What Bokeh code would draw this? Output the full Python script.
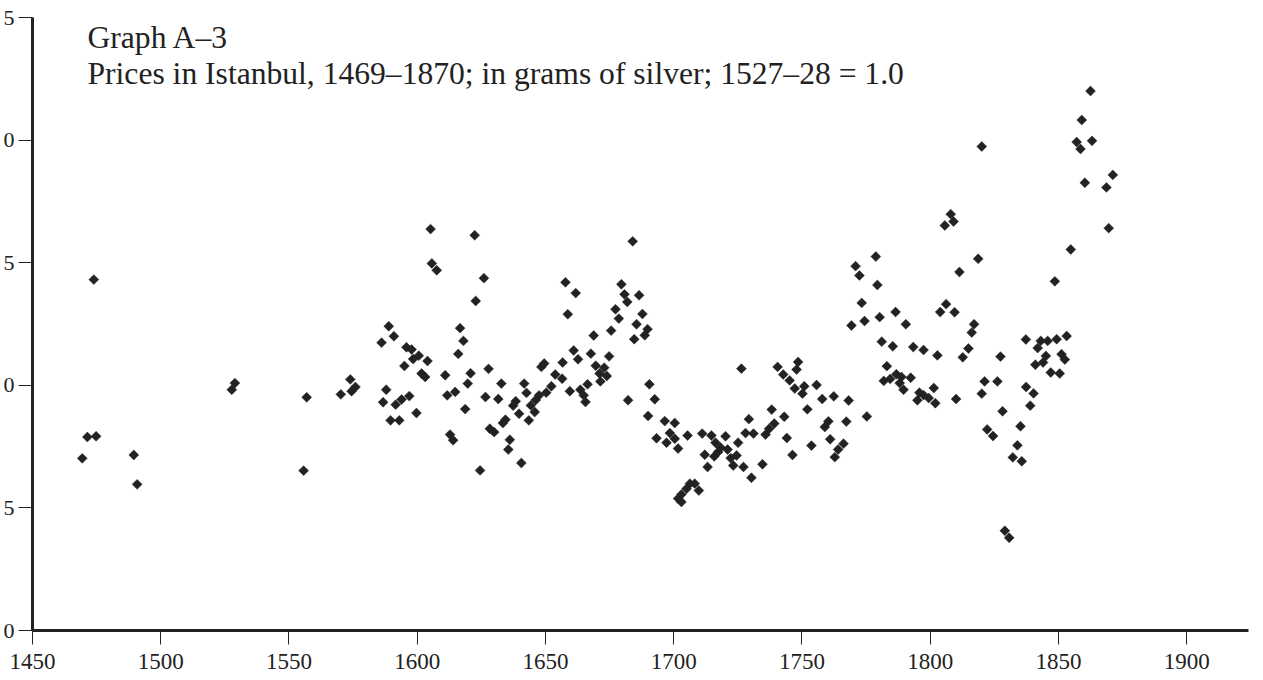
import numpy as np
from bokeh.plotting import figure
from bokeh.models import Label, Range1d, FixedTicker
from bokeh.embed import file_html
from bokeh.resources import INLINE

# --- data (year, price index; 1527-28 = 1.0) ---
years = [1469.4, 1471.4, 1473.9, 1474.8, 1489.5, 1490.8, 1527.7, 1528.9, 1555.7, 1556.9,
         1570.2, 1573.9, 1574.4, 1575.9,
         1586.1, 1586.7, 1587.9, 1588.9, 1589.6, 1590.9, 1591.6, 1593.0, 1593.9, 1595.0,
         1595.8, 1596.9, 1597.8, 1598.4, 1599.7, 1600.6, 1601.7, 1603.1, 1604.0, 1605.2,
         1605.7, 1607.6, 1610.9, 1611.7, 1612.8, 1614.0, 1614.8, 1616.0, 1616.7, 1618.0,
         1618.7, 1619.7, 1620.8, 1622.4, 1622.8, 1624.5, 1626.0, 1626.6, 1627.8, 1628.3,
         1630.0, 1631.6, 1632.8, 1633.4, 1634.4, 1635.5, 1636.1,
         1637.4, 1638.4, 1639.7, 1640.6, 1641.7, 1642.6, 1643.5, 1644.3, 1645.8, 1646.2,
         1647.5, 1648.4, 1649.5, 1650.3, 1652.3, 1653.8, 1656.5, 1656.7, 1657.8, 1658.7,
         1659.5, 1661.0, 1661.8, 1662.7, 1663.6, 1664.9, 1665.6, 1666.4, 1667.7, 1668.8,
         1669.6, 1671.1, 1671.4, 1672.9, 1673.9, 1674.8, 1675.6, 1677.3, 1678.6, 1679.6,
         1680.8, 1681.9, 1682.2, 1684.0, 1684.6, 1685.5, 1686.5, 1687.8, 1688.7, 1689.8,
         1690.0, 1690.5,
         1692.6, 1693.3, 1696.5, 1697.2, 1698.5, 1700.4, 1700.4, 1701.7, 1701.7, 1703.0,
         1703.0, 1705.0, 1705.4, 1706.3, 1708.2, 1709.8, 1711.1, 1712.1, 1713.2, 1714.7,
         1715.8, 1716.3, 1717.3, 1718.3, 1720.2, 1721.0, 1722.2, 1723.2, 1724.5, 1725.1,
         1726.4, 1727.2, 1728.0, 1729.3, 1730.3, 1731.1, 1734.6, 1735.8, 1737.2, 1738.2,
         1739.2, 1740.5, 1742.7, 1743.1, 1744.1, 1745.2, 1746.3, 1747.2, 1747.9, 1748.5,
         1750.2, 1750.9, 1752.1, 1753.7, 1755.7, 1757.9, 1758.9, 1760.3, 1761.0, 1762.4,
         1762.8, 1764.1, 1766.2, 1767.3, 1768.2, 1769.3, 1770.9, 1772.4, 1773.3, 1774.4,
         1775.3, 1778.8, 1779.4, 1780.3, 1781.1, 1781.9, 1783.1, 1784.4, 1785.4, 1786.5,
         1786.8, 1788.1, 1788.8, 1789.6, 1790.5, 1792.4, 1793.4, 1795.0, 1795.8, 1797.4,
         1797.4, 1799.4, 1801.4, 1802.0, 1802.8, 1803.9, 1805.7, 1806.2, 1808.0, 1809.1,
         1809.5, 1810.1, 1811.4, 1812.7, 1814.9, 1816.2, 1817.1, 1818.7, 1820.1, 1820.1,
         1821.2, 1822.2, 1824.5, 1826.2, 1827.4, 1828.2, 1829.1, 1830.8, 1832.2, 1834.0,
         1835.2, 1835.7, 1837.3, 1837.4, 1839.0, 1840.3, 1841.0, 1841.9, 1843.1, 1844.0,
         1845.1, 1845.8, 1847.0, 1848.6, 1849.3, 1850.5, 1851.2, 1852.5, 1853.2, 1854.8,
         1857.1, 1858.6, 1859.1, 1860.3, 1862.5, 1863.1, 1868.7, 1869.6, 1871.2]

prices = [0.702, 0.789, 1.431, 0.792, 0.716, 0.596, 0.982, 1.009, 0.652, 0.951,
          0.963, 1.024, 0.976, 0.993,
          1.174, 0.931, 0.982, 1.241, 0.857, 1.200, 0.921, 0.857, 0.942, 1.079,
          1.155, 0.956, 1.146, 1.107, 0.887, 1.121, 1.048, 1.034, 1.099, 1.637,
          1.497, 1.469, 1.041, 0.959, 0.799, 0.776, 0.973, 1.128, 1.233, 1.181,
          0.903, 1.007, 1.049, 1.612, 1.344, 0.653, 1.437, 0.952, 1.067, 0.823,
          0.809, 0.944, 1.007, 0.846, 0.860, 0.738, 0.778,
          0.917, 0.935, 0.884, 0.683, 1.007, 0.969, 0.857, 0.918, 0.891, 0.940,
          0.959, 1.075, 1.089, 0.970, 0.996, 1.044, 1.027, 1.093, 1.420, 1.290,
          0.976, 1.142, 1.376, 1.106, 0.982, 0.959, 0.932, 1.004, 1.129, 1.203,
          1.080, 1.048, 1.016, 1.072, 1.038, 1.118, 1.223, 1.310, 1.272, 1.412,
          1.371, 1.340, 0.939, 1.587, 1.188, 1.249, 1.367, 1.291, 1.204, 1.229,
          0.875, 1.004,
          0.943, 0.784, 0.854, 0.766, 0.805, 0.846, 0.782, 0.742, 0.538, 0.555,
          0.524, 0.578, 0.795, 0.599, 0.599, 0.571, 0.803, 0.717, 0.667, 0.795,
          0.710, 0.766, 0.728, 0.746, 0.792, 0.738, 0.703, 0.673, 0.714, 0.766,
          1.068, 0.667, 0.805, 0.862, 0.623, 0.803, 0.678, 0.799, 0.823, 0.901,
          0.844, 1.075, 1.044, 0.872, 0.785, 1.020, 0.716, 0.987, 1.064, 1.095,
          0.966, 0.996, 0.902, 0.754, 1.001, 0.944, 0.830, 0.853, 0.780, 0.955,
          0.707, 0.738, 0.762, 0.852, 0.938, 1.244, 1.486, 1.448, 1.336, 1.262,
          0.873, 1.525, 1.409, 1.278, 1.178, 1.018, 1.078, 1.026, 1.159, 1.299,
          1.045, 1.009, 1.034, 0.982, 1.249, 1.031, 1.156, 0.939, 0.970, 1.144,
          0.960, 0.948, 0.989, 0.927, 1.122, 1.299, 1.652, 1.331, 1.698, 1.668,
          1.298, 0.944, 1.462, 1.114, 1.150, 1.215, 1.249, 1.516, 1.974, 0.966,
          1.016, 0.820, 0.793, 1.016, 1.117, 0.894, 0.407, 0.378, 0.706, 0.755,
          0.833, 0.690, 1.187, 0.993, 0.917, 0.967, 1.084, 1.152, 1.181, 1.093,
          1.120, 1.181, 1.052, 1.424, 1.188, 1.048, 1.127, 1.105, 1.201, 1.554,
          1.992, 1.964, 2.082, 1.826, 2.200, 1.997, 1.807, 1.641, 1.858]

x_ticks = [1450, 1500, 1550, 1600, 1650, 1700, 1750, 1800, 1850, 1900]
y_ticks = [0, 0.5, 1.0, 1.5, 2.0, 2.5]
y_tick_text = {0: "0", 0.5: "5", 1.0: "0", 1.5: "5", 2.0: "0", 2.5: "5"}
title_1 = "Graph A\u20133"
title_2 = "Prices in Istanbul, 1469\u20131870; in grams of silver; 1527\u201328 = 1.0"

INK = "#222222"
FONT = "Liberation Serif"

p = figure(
    frame_width=1216, frame_height=613,
    x_range=Range1d(1450, 1924.1), y_range=Range1d(0, 2.5),
    output_backend="svg", toolbar_location=None,
    min_border_left=31, min_border_top=17, min_border_right=8, min_border_bottom=50,
    background_fill_color="white", border_fill_color="white",
    outline_line_color=None,
)
p.grid.visible = False

p.scatter(years, prices, marker="square", size=7, angle=np.pi / 4,
          fill_color=INK, line_color=INK, line_width=0.5)

# axes
xa = p.xaxis[0]
xa.ticker = FixedTicker(ticks=x_ticks)
xa.axis_line_width = 3
xa.axis_line_color = INK
xa.major_tick_line_color = INK
xa.major_tick_line_width = 1
xa.major_tick_out = 14
xa.major_tick_in = 0
xa.minor_tick_line_color = None
xa.major_label_standoff = 9
xa.major_label_text_font = FONT
xa.major_label_text_font_size = "23px"
xa.major_label_text_color = INK

ya = p.yaxis[0]
ya.ticker = FixedTicker(ticks=y_ticks)
ya.major_label_overrides = y_tick_text
ya.axis_line_width = 3
ya.axis_line_color = INK
ya.major_tick_line_color = INK
ya.major_tick_line_width = 1
ya.major_tick_out = 14
ya.major_tick_in = 0
ya.minor_tick_line_color = None
ya.major_label_standoff = 4
ya.major_label_text_font = FONT
ya.major_label_text_font_size = "22px"
ya.major_label_text_color = INK

for txt, yy in ((title_1, 593), (title_2, 557)):
    p.add_layout(Label(x=55, y=yy, x_units="screen", y_units="screen", text=txt,
                       text_font=FONT, text_font_size="31.6px", text_color=INK,
                       text_baseline="alphabetic", text_align="left"))

open("out.html", "w").write(file_html(p, INLINE))
